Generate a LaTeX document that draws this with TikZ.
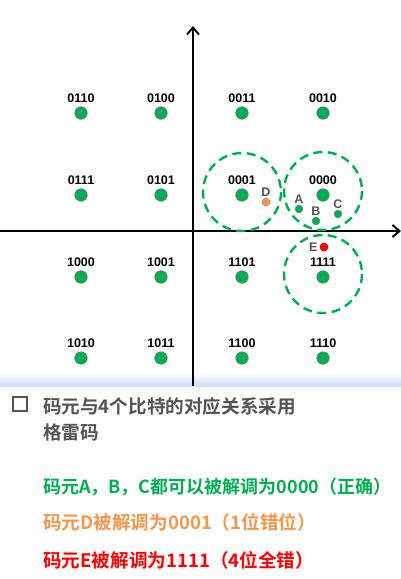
\documentclass[tikz,border=0pt]{standalone}
\usepackage{fontspec}
\setmainfont{Liberation Sans}
\newfontfamily\cjk{Noto Sans CJK SC}[BoldFont={Noto Sans CJK SC Bold}]
\usetikzlibrary{arrows.meta,positioning}
\definecolor{ptgreen}{RGB}{0,176,80}
\definecolor{ptorange}{RGB}{245,150,75}
\definecolor{ptred}{RGB}{255,0,0}
\definecolor{txtgrey}{RGB}{84,84,84}
\definecolor{bandblue}{RGB}{205,222,245}
\tikzset{
  sym/.style={circle,draw=black!55,fill=ptgreen,inner sep=0pt,minimum size=12.5pt,line width=.6pt},
  rx/.style={circle,draw=black!45,fill=ptgreen,inner sep=0pt,minimum size=8pt,line width=.5pt},
  code/.style={font=\fontsize{12.5}{13}\selectfont\bfseries,inner sep=1pt},
  rxlab/.style={font=\fontsize{12.5}{13}\selectfont\bfseries,text=txtgrey,inner sep=1pt},
  axis/.style={-{Straight Barb[length=7pt,width=12pt,line width=2pt]},line width=2pt,draw=black},
  region/.style={draw=ptgreen,dashed,dash pattern=on 9pt off 5.5pt,line width=2.4pt},
  note/.style={anchor=west,inner sep=0pt,font=\cjk\fontsize{18.6}{22}\selectfont\bfseries},
}
\begin{document}
\begin{tikzpicture}[x=1pt,y=-1pt]
  \useasboundingbox (0,0) rectangle (401,579);
  % band under the plot
  \shade[top color=white,bottom color=bandblue] (0,372) rectangle (401,386);
  % axes
  \coordinate (xl) at (0,231);
  \coordinate (xr) at (401,231);
  \coordinate (yb) at (193,386);
  \coordinate (yt) at (193,26);
  \draw[axis] (xl) -- (xr);
  \draw[axis] (yb) -- (yt);
  % 16 symbols, gray coded
  \foreach \c/\x/\y in {0110/81/113,0100/161/113,0011/242/113,0010/323/113,
                        0111/81/195,0101/161/195,0001/242/195,0000/323/195,
                        1000/81/277,1001/161/277,1101/242/277,1111/323/277,
                        1010/81/358,1011/161/358,1100/242/358,1110/323/358}
    \node[sym,label={[code,label distance=2.5pt]above:\c}] (n\c) at (\x,\y) {};
  % decision regions
  \draw[region] ([yshift=3pt]n0001.center) circle[radius=39];
  \draw[region] ([yshift=4pt]n0000.center) circle[radius=39];
  \draw[region] ([yshift=3pt]n1111.center) circle[radius=39];
  % received points
  \node[rx,label={[rxlab]above:A}] (ra) at (299,209) {};
  \node[rx,label={[rxlab]above:B}] (rb) at (316,221) {};
  \node[rx,label={[rxlab]above:C}] (rc) at (338,214) {};
  \node[rx,fill=ptorange,label={[rxlab]above:D}] (rd) at (266,202) {};
  \node[rx,fill=ptred,draw=ptred!70!black,label={[rxlab,label distance=1pt]left:E}] (re) at (324,247) {};
  % text below
  \node[draw=txtgrey,line width=1.6pt,minimum size=14pt,inner sep=0pt] (box) at (20,404) {};
  \node[note,text=txtgrey] (t1) at (43,406) {码元与4个比特的对应关系采用};
  \node[note,text=txtgrey] (t2) at (43,432) {格雷码};
  \node[note,text=ptgreen,font=\cjk\fontsize{18}{22}\selectfont\bfseries] (t3) at (43,487) {码元A，B，C都可以被解调为0000（正确）};
  \node[note,text=ptorange] (t4) at (43,522) {码元D被解调为0001（1位错位）};
  \node[note,text=ptred] (t5) at (43,560) {码元E被解调为1111（4位全错）};
\end{tikzpicture}
\end{document}
